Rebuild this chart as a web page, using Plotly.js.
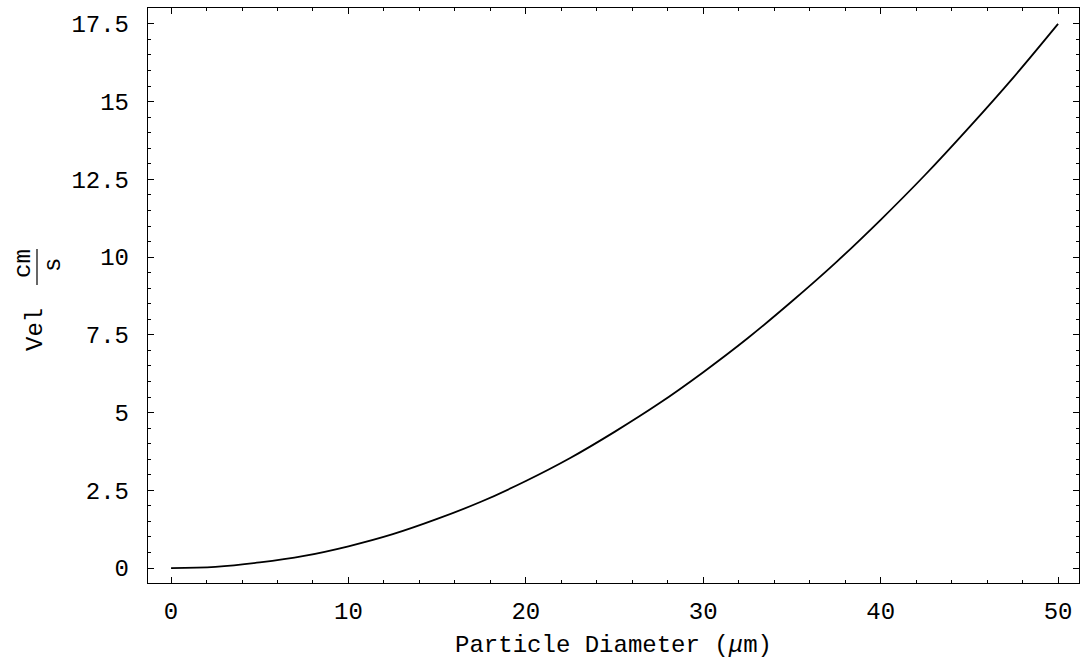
<!DOCTYPE html>
<html>
<head>
<meta charset="utf-8">
<script src="https://cdn.plot.ly/plotly-3.0.1.min.js"></script>
<style>html,body{margin:0;padding:0;background:#fff;}#chart{width:1086px;height:660px;}</style>
</head>
<body>
<div id="chart"></div>
<script>
// Particle diameter (µm) and settling velocity (cm/s)
const diameter = [0, 2.5, 5, 7.5, 10, 12.5, 15, 17.5, 20, 22.5, 25, 27.5, 30, 32.5, 35, 37.5, 40, 42.5, 45, 47.5, 50];
const velocity = [0, 0.04, 0.18, 0.39, 0.70, 1.09, 1.58, 2.14, 2.80, 3.54, 4.38, 5.29, 6.30, 7.39, 8.58, 9.84, 11.20, 12.64, 14.18, 15.79, 17.50];
const xTickVals = [0, 10, 20, 30, 40, 50];
const xTickText = ["0", "10", "20", "30", "40", "50"];
const yTickVals = [0, 2.5, 5, 7.5, 10, 12.5, 15, 17.5];
const yTickText = ["0", "2.5", "5", "7.5", "10", "12.5", "15", "17.5"];

const FONT = "'Liberation Mono', 'Courier New', monospace";
const FS = 24;
const L = 148, T = 8, W = 931, H = 575;
function px2paperX(px){ return (px - L) / W; }
function px2paperY(py){ return (T + H - py) / H; }

const trace = {
  x: diameter, y: velocity, type: 'scatter', mode: 'lines',
  line: {color: '#000', width: 1.8, shape: 'spline', smoothing: 1},
  hoverinfo: 'skip'
};

const axisCommon = {
  showline: true, linecolor: '#000', linewidth: 1.2, mirror: 'ticks',
  ticks: 'inside', ticklen: 6, tickwidth: 1, tickcolor: '#000',
  showgrid: false, zeroline: false,
  tickfont: {family: FONT, size: FS, color: '#000'},
  tickmode: 'array'
};

const layout = {
  width: 1086, height: 660,
  margin: {l: L, r: 1086 - L - W, t: T, b: 660 - T - H, pad: 0},
  paper_bgcolor: '#fff', plot_bgcolor: '#fff',
  showlegend: false,
  xaxis: Object.assign({}, axisCommon, {
    range: [-1.3, 51.18],
    tickvals: xTickVals, ticktext: xTickText,
    ticklabelstandoff: 6,
    minor: {dtick: 2, tick0: 0, ticks: 'inside', ticklen: 3, tickcolor: '#000', showgrid: false},
    title: {text: 'Particle Diameter (<i>μ</i>m)', font: {family: FONT, size: FS, color: '#000'}, standoff: 10}
  }),
  yaxis: Object.assign({}, axisCommon, {
    range: [-0.48, 18.01],
    tickvals: yTickVals, ticktext: yTickText,
    ticklabelstandoff: 13,
    minor: {dtick: 0.5, tick0: 0, ticks: 'inside', ticklen: 3, tickcolor: '#000', showgrid: false}
  }),
  annotations: [
    {text: 'Vel', xref: 'paper', yref: 'paper', x: px2paperX(35), y: px2paperY(330),
     xanchor: 'center', yanchor: 'middle', textangle: -90, showarrow: false,
     font: {family: FONT, size: FS, color: '#000'}},
    {text: 'cm', xref: 'paper', yref: 'paper', x: px2paperX(23), y: px2paperY(264),
     xanchor: 'center', yanchor: 'middle', textangle: -90, showarrow: false,
     font: {family: FONT, size: FS, color: '#000'}},
    {text: 's', xref: 'paper', yref: 'paper', x: px2paperX(53), y: px2paperY(265),
     xanchor: 'center', yanchor: 'middle', textangle: -90, showarrow: false,
     font: {family: FONT, size: FS, color: '#000'}}
  ],
  shapes: [
    {type: 'line', xref: 'paper', yref: 'paper',
     x0: px2paperX(37), x1: px2paperX(37), y0: px2paperY(249), y1: px2paperY(285),
     line: {color: '#000', width: 1.2}}
  ]
};

Plotly.newPlot('chart', [trace], layout, {staticPlot: true, displayModeBar: false});
</script>
</body>
</html>
